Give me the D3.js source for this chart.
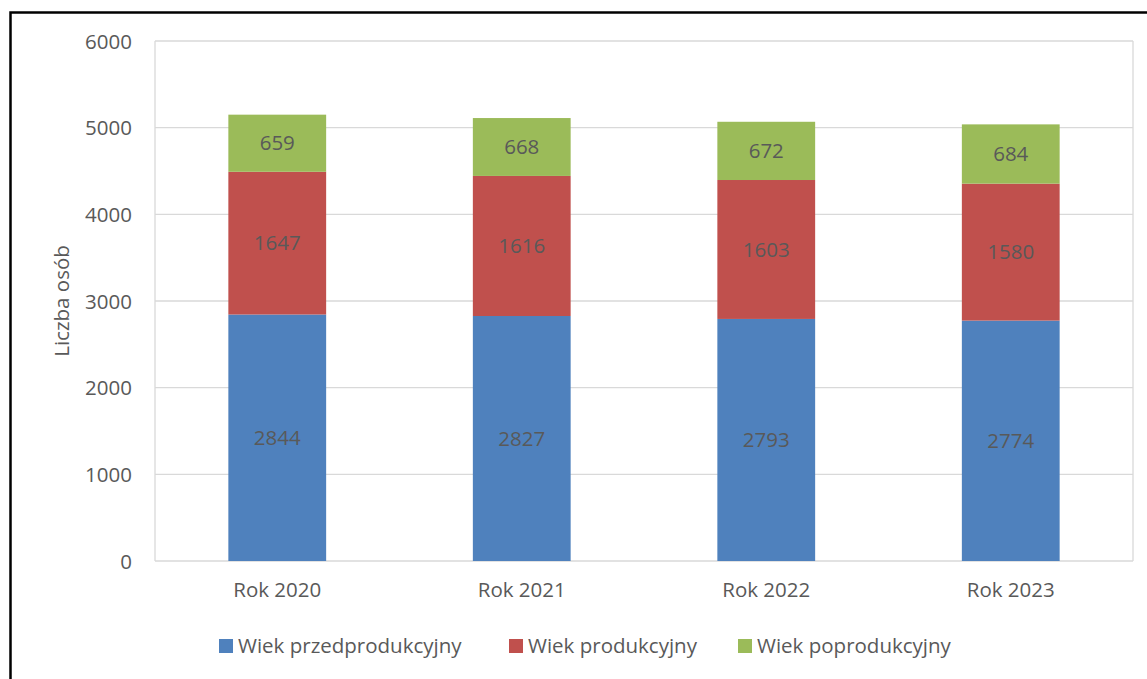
<!DOCTYPE html>
<html><head><meta charset="utf-8">
<script src="https://cdn.jsdelivr.net/npm/d3@7"></script>
<style>body{margin:0;background:#fff;}svg{display:block;}text{font-family:"Open Sans",sans-serif;fill:#595959;}</style>
</head><body>
<script>
const categories = ["Rok 2020","Rok 2021","Rok 2022","Rok 2023"];
const seriesNames = ["Wiek przedprodukcyjny","Wiek produkcyjny","Wiek poprodukcyjny"];
const przedprodukcyjny = [2844,2827,2793,2774];
const produkcyjny = [1647,1616,1603,1580];
const poprodukcyjny = [659,668,672,684];
const yTicks = [0,1000,2000,3000,4000,5000,6000];
const colors = ["#4f81bd","#c0504d","#9bbb59"];

const W=1147,H=679,FS="20.5px";
const svg=d3.select("body").append("svg").attr("width",W).attr("height",H);
svg.append("rect").attr("x",10.5).attr("y",12.5).attr("width",W+20).attr("height",H+20).attr("fill","none").attr("stroke","#000").attr("stroke-width",2.5);

const L=155,R=1133,T=41,B=561;
const x=d3.scaleBand().domain(categories).range([L,R]).paddingInner(0.6).paddingOuter(0.3);
const y=d3.scaleLinear().domain([0,6000]).range([B,T]);

const g=svg.append("g");
g.selectAll("line.grid").data(yTicks).join("line").attr("x1",L).attr("x2",R)
 .attr("y1",d=>y(d)).attr("y2",d=>y(d)).attr("stroke","#d9d9d9").attr("stroke-width",1.3);
g.append("line").attr("x1",L).attr("x2",L).attr("y1",T).attr("y2",B).attr("stroke","#d9d9d9").attr("stroke-width",1.3);
g.append("line").attr("x1",R).attr("x2",R).attr("y1",T).attr("y2",B).attr("stroke","#d9d9d9").attr("stroke-width",1.3);

const yAxis=d3.axisLeft(y).tickValues(yTicks).tickFormat(d3.format("d")).tickSize(0).tickPadding(23);
const ya=svg.append("g").attr("transform",`translate(${L},0)`).call(yAxis);
ya.select(".domain").remove();
ya.selectAll("text").style("font-size",FS).attr("fill","#595959").attr("dy","0.35em");

const xAxis=d3.axisBottom(x).tickSize(0).tickPadding(21);
const xa=svg.append("g").attr("transform",`translate(0,${B})`).call(xAxis);
xa.select(".domain").remove();
xa.selectAll("text").style("font-size",FS).attr("fill","#595959");

const rows=categories.map((c,i)=>({cat:c,s0:przedprodukcyjny[i],s1:produkcyjny[i],s2:poprodukcyjny[i]}));
const stack=d3.stack().keys(["s0","s1","s2"])(rows);
stack.forEach((layer,li)=>{
  const lg=svg.append("g");
  lg.selectAll("rect").data(layer).join("rect")
    .attr("x",d=>x(d.data.cat)).attr("width",x.bandwidth())
    .attr("y",d=>y(d[1])).attr("height",d=>y(d[0])-y(d[1]))
    .attr("fill",colors[li]);
  lg.selectAll("text").data(layer).join("text")
    .attr("x",d=>x(d.data.cat)+x.bandwidth()/2)
    .attr("y",d=>(y(d[0])+y(d[1]))/2).attr("dy","0.35em")
    .attr("text-anchor","middle").style("font-size",FS).attr("fill","#404040")
    .text(d=>d[1]-d[0]);
});

svg.append("text").attr("transform","translate(69,301) rotate(-90)").attr("text-anchor","middle")
  .style("font-size",FS).text("Liczba osób");

const legX=[219,509,738];
const lgd=svg.selectAll("g.leg").data(seriesNames).join("g").attr("transform",(d,i)=>`translate(${legX[i]},639)`);
lgd.append("rect").attr("width",14).attr("height",14).attr("fill",(d,i)=>colors[i]);
lgd.append("text").attr("x",19).attr("y",7).attr("dy","0.35em").style("font-size",FS).text(d=>d);
</script>
</body></html>
